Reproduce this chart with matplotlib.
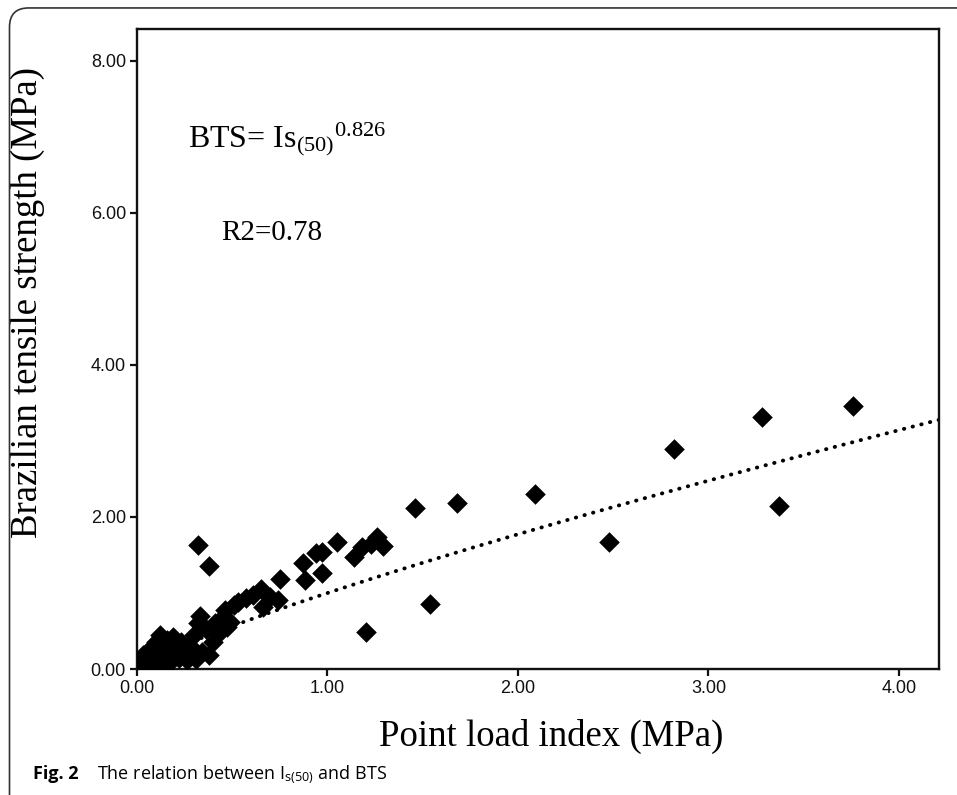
import numpy as np
import matplotlib
matplotlib.use('Agg')
import matplotlib.pyplot as plt
from matplotlib.patches import FancyBboxPatch

# puntos: indice de carga puntual vs resistencia brasilena
is50 = [0.01, 0.02, 0.03, 0.04, 0.05, 0.06, 0.07, 0.08, 0.09, 0.10, 0.10, 0.11,
        0.12, 0.13, 0.14, 0.15, 0.16, 0.17, 0.18, 0.19, 0.20, 0.22, 0.23, 0.25,
        0.26, 0.28, 0.30, 0.31, 0.32, 0.33, 0.34, 0.36, 0.38, 0.40, 0.41, 0.43,
        0.45, 0.47, 0.46, 0.49, 0.51, 0.53, 0.57, 0.61, 0.65, 0.66, 0.70, 0.74,
        0.75, 0.87, 0.88, 0.94, 0.97, 0.97, 1.05, 1.14, 1.18, 1.23, 1.26, 1.29,
        0.32, 0.38, 1.20, 1.54, 1.46, 1.68, 2.09, 2.48, 2.82, 3.28, 3.37, 3.76]
bts = [0.05, 0.12, 0.18, 0.08, 0.22, 0.15, 0.05, 0.28, 0.12, 0.35, 0.20, 0.08,
       0.45, 0.25, 0.15, 0.05, 0.38, 0.20, 0.10, 0.42, 0.30, 0.14, 0.35, 0.22,
       0.12, 0.30, 0.45, 0.13, 0.60, 0.70, 0.22, 0.52, 0.18, 0.35, 0.60, 0.48,
       0.68, 0.55, 0.77, 0.62, 0.84, 0.88, 0.93, 0.98, 1.05, 0.82, 0.95, 0.91,
       1.19, 1.39, 1.17, 1.52, 1.26, 1.54, 1.67, 1.48, 1.61, 1.65, 1.74, 1.62,
       1.63, 1.36, 0.49, 0.86, 2.12, 2.18, 2.30, 1.67, 2.89, 3.31, 2.15, 3.46]

# modelo ajustado  BTS = a * Is^b
coef_a = 1.0
exp_b = 0.826

xticks = [0, 1, 2, 3, 4]
yticks = [0, 2, 4, 6, 8]

plt.rcParams['mathtext.fontset'] = 'custom'
plt.rcParams['mathtext.rm'] = 'Liberation Serif'
plt.rcParams['mathtext.it'] = 'Liberation Serif'

fig = plt.figure(figsize=(9.57, 7.95), dpi=100)
ax = fig.add_axes([137/957, 1-669/795, (939-137)/957, (669-29)/795])

xfit = np.linspace(0, 4.21, 200)
ax.plot(xfit, coef_a * xfit**exp_b, color='black', lw=2.8,
        linestyle=(0, (0.1, 2.2)), dash_capstyle='round', zorder=2)
ax.scatter(is50, bts, marker='D', s=110, color='black', linewidths=0, zorder=3)

ax.set_xlim(0, 4.21)
ax.set_ylim(0, 8.42)
ax.set_xticks(xticks)
ax.set_yticks(yticks)
ax.set_xticklabels(['%.2f' % t for t in xticks], fontsize=13, family='Liberation Sans', color='#111111')
ax.set_yticklabels(['%.2f' % t for t in yticks], fontsize=13, family='Liberation Sans', color='#111111')
ax.tick_params(direction='out', length=5, width=1.6, color='#111111', pad=3)
for s in ax.spines.values():
    s.set_linewidth(1.7)
    s.set_color('#111111')

ax.text(0.517, -0.12, 'Point load index (MPa)', transform=ax.transAxes, ha='center',
        va='baseline', fontsize=26.5, family='Liberation Serif')
ax.text(-0.136, 0.573, 'Brazilian tensile strength (MPa)', transform=ax.transAxes,
        ha='center', va='center', rotation=90, fontsize=26.5, family='Liberation Serif')

ax.text(0.064, 0.816, r'BTS= Is$_{(50)}$$^{0.826}$', transform=ax.transAxes,
        va='baseline', fontsize=23, family='Liberation Serif')
ax.text(0.105, 0.670, 'R2=0.78', transform=ax.transAxes, va='baseline',
        fontsize=21, family='Liberation Serif')

# marco redondeado y pie de figura
frame = FancyBboxPatch((9.5/957, -0.05), 1.2, 1.04, boxstyle='round,pad=0,rounding_size=0.02',
                       transform=fig.transFigure, fill=False, lw=1.2, ec='#333333',
                       mutation_aspect=957/795)
fig.add_artist(frame)
fig.text(33/957, 1-779/795, 'Fig. 2', fontsize=13, family='Open Sans', fontweight='bold',
         va='baseline')
fig.text(97/957, 1-779/795, r'The relation between I$_{\mathregular{s(50)}}$ and BTS',
         fontsize=13, family='Open Sans', va='baseline')

plt.savefig('out.png', dpi=100)
